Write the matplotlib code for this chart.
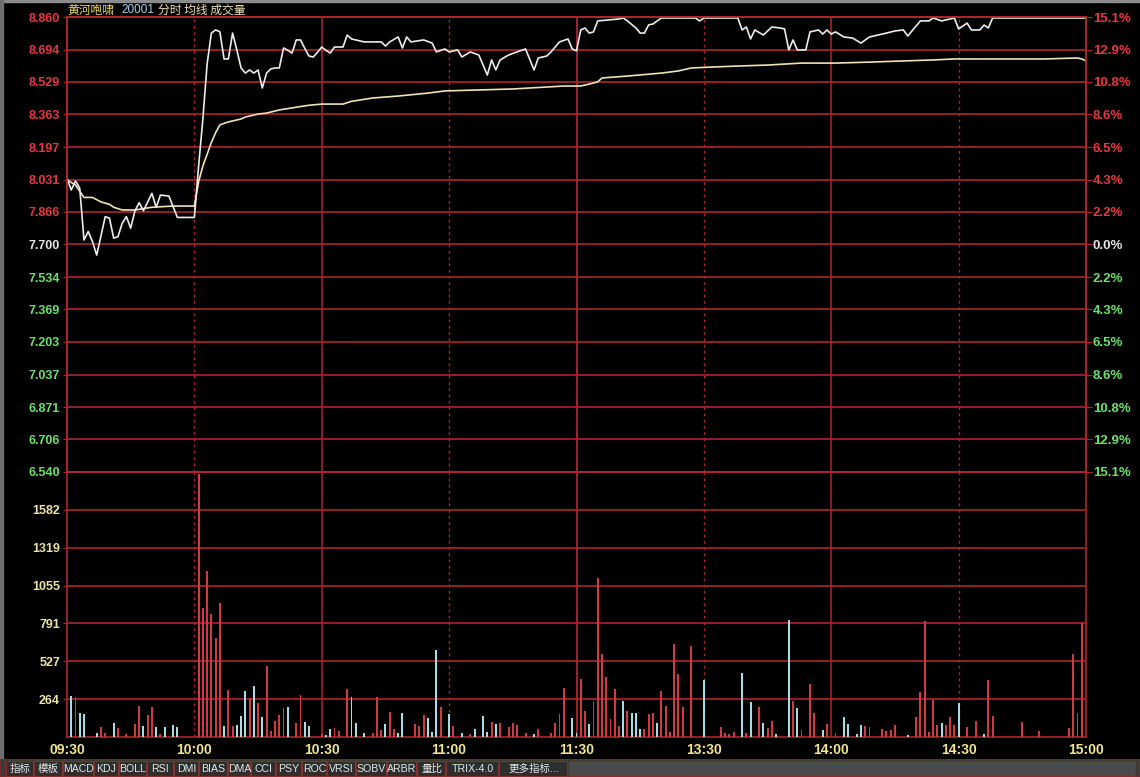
import matplotlib
matplotlib.use("Agg")
import matplotlib.pyplot as plt
from matplotlib.patches import Rectangle

plt.rcParams["font.family"] = ["Liberation Sans", "Noto Sans CJK SC", "DejaVu Sans"]

# minutes after 09:30, lunch break removed (0..240)
price_minutes = [0, 1, 2, 3, 4, 5, 6, 7, 9, 10, 11, 12, 13, 14, 15, 16, 17, 18, 20, 21,
                 22, 24, 25, 26, 30, 31, 32, 33, 34, 35, 36, 37, 38, 39, 40, 41, 42, 43, 44, 45,
                 46, 47, 48, 49, 50, 51, 52, 53, 54, 55, 56, 57, 58, 59, 60, 61, 62, 63, 64, 65,
                 66, 67, 70, 74, 75, 76, 78, 79, 80, 81, 84, 86, 87, 89, 90, 92, 93, 95, 97, 98,
                 99, 100, 101, 102, 104, 106, 108, 110, 111, 113, 114, 116, 118, 119, 120, 121, 122, 123, 124, 125,
                 130, 131, 132, 134, 135, 136, 137, 138, 139, 140, 148, 149, 150, 158, 159, 160, 161, 162, 164, 166,
                 168, 169, 170, 171, 172, 174, 175, 177, 178, 179, 180, 181, 183, 185, 187, 189, 191, 193, 195, 197,
                 198, 201, 203, 204, 206, 209, 210, 212, 213, 215, 216, 217, 218, 240]
price_values = [8.038, 7.978, 8.024, 7.987, 7.723, 7.766, 7.715, 7.646, 7.842, 7.834, 7.732, 7.740, 7.808, 7.842, 7.783, 7.872, 7.913, 7.872, 7.961, 7.889,
                7.952, 7.947, 7.893, 7.838, 7.838, 8.100, 8.340, 8.620, 8.778, 8.794, 8.785, 8.646, 8.646, 8.778, 8.692, 8.600, 8.574, 8.590, 8.574, 8.590,
                8.498, 8.574, 8.595, 8.600, 8.600, 8.702, 8.690, 8.676, 8.743, 8.743, 8.700, 8.661, 8.656, 8.680, 8.707, 8.690, 8.676, 8.707, 8.707, 8.707,
                8.768, 8.748, 8.733, 8.733, 8.712, 8.733, 8.758, 8.702, 8.758, 8.733, 8.743, 8.727, 8.682, 8.697, 8.682, 8.692, 8.656, 8.682, 8.666, 8.615,
                8.564, 8.641, 8.590, 8.641, 8.666, 8.682, 8.697, 8.590, 8.651, 8.661, 8.682, 8.733, 8.748, 8.697, 8.687, 8.794, 8.804, 8.778, 8.784, 8.840,
                8.850, 8.855, 8.840, 8.804, 8.778, 8.778, 8.820, 8.824, 8.840, 8.855, 8.855, 8.840, 8.855, 8.855, 8.794, 8.809, 8.748, 8.794, 8.768, 8.809,
                8.804, 8.799, 8.692, 8.743, 8.692, 8.692, 8.784, 8.794, 8.773, 8.794, 8.773, 8.784, 8.758, 8.753, 8.727, 8.758, 8.768, 8.778, 8.789, 8.794,
                8.763, 8.840, 8.840, 8.855, 8.840, 8.855, 8.799, 8.829, 8.794, 8.794, 8.819, 8.804, 8.855, 8.855]

avg_minutes = [0, 2, 4, 6, 8, 10, 11, 13, 16, 20, 25, 30, 31, 32, 33, 34, 35, 36, 38, 41,
               42, 45, 47, 50, 54, 57, 60, 65, 67, 72, 78, 85, 89, 97, 105, 113, 117, 121, 123, 125,
               126, 132, 140, 144, 147, 152, 158, 165, 173, 181, 189, 197, 204, 209, 222, 230, 238, 239, 240]
avg_values = [8.030, 8.003, 7.940, 7.940, 7.917, 7.905, 7.890, 7.876, 7.876, 7.890, 7.896, 7.896, 8.020, 8.100, 8.160, 8.220, 8.270, 8.310, 8.325, 8.340,
              8.350, 8.365, 8.370, 8.386, 8.400, 8.410, 8.416, 8.416, 8.430, 8.447, 8.457, 8.472, 8.483, 8.488, 8.493, 8.503, 8.508, 8.508, 8.518, 8.529,
              8.549, 8.559, 8.574, 8.585, 8.600, 8.605, 8.610, 8.615, 8.625, 8.625, 8.630, 8.636, 8.641, 8.646, 8.646, 8.646, 8.651, 8.646, 8.636]

vol_minutes = [1, 2, 3, 4, 7, 8, 9, 11, 12, 14, 16, 17, 18, 19, 20, 21, 22, 23, 25, 26,
               31, 32, 33, 34, 35, 36, 37, 38, 39, 40, 41, 42, 43, 44, 45, 46, 47, 48, 49, 50,
               51, 52, 54, 55, 56, 57, 60, 61, 62, 63, 64, 66, 67, 68, 70, 72, 73, 74, 75, 76,
               77, 78, 79, 82, 83, 84, 85, 86, 87, 88, 90, 91, 93, 95, 96, 98, 99, 100, 101, 102,
               104, 105, 106, 108, 110, 111, 114, 115, 116, 117, 119, 120, 121, 122, 123, 124, 125, 126, 127, 128,
               129, 130, 131, 132, 133, 134, 135, 136, 137, 138, 139, 140, 141, 142, 143, 144, 145, 147, 150, 154,
               155, 156, 157, 159, 160, 161, 163, 164, 165, 166, 167, 170, 171, 172, 173, 175, 176, 178, 179, 181,
               183, 184, 186, 187, 188, 189, 192, 193, 194, 195, 198, 200, 201, 202, 203, 204, 205, 206, 207, 208,
               209, 210, 212, 214, 216, 217, 218, 225, 229, 236, 237, 238, 239]
vol_values = [285, 278, 167, 160, 28, 69, 28, 97, 62, 21, 90, 215, 76, 153, 208, 69, 21, 69, 83, 69,
              1832, 902, 1159, 854, 687, 930, 76, 326, 76, 83, 146, 319, 271, 354, 236, 139, 493, 42, 111, 153,
              201, 208, 97, 291, 104, 76, 21, 15, 55, 62, 42, 333, 278, 97, 28, 28, 278, 48, 90, 174,
              55, 28, 167, 90, 76, 153, 132, 35, 604, 208, 160, 76, 28, 20, 55, 146, 35, 104, 90, 97,
              69, 97, 83, 28, 20, 55, 28, 97, 160, 340, 132, 28, 402, 180, 90, 243, 1110, 576, 416, 125,
              333, 76, 250, 180, 167, 167, 55, 55, 160, 167, 97, 319, 215, 35, 645, 437, 208, 631, 395, 69,
              28, 20, 35, 444, 28, 243, 208, 97, 62, 111, 20, 812, 250, 201, 48, 368, 167, 48, 90, 28,
              139, 90, 20, 83, 76, 69, 55, 42, 48, 83, 15, 139, 312, 805, 35, 257, 83, 97, 83, 139,
              83, 236, 69, 111, 20, 395, 146, 104, 42, 62, 576, 167, 791]
vol_down = [1, 0, 1, 1, 1, 0, 0, 1, 0, 0, 0, 0, 1, 0, 0, 1, 0, 1, 1, 1,
            0, 0, 0, 0, 0, 0, 1, 0, 0, 1, 1, 1, 0, 1, 0, 1, 0, 0, 0, 0,
            0, 1, 0, 0, 1, 1, 0, 1, 1, 0, 0, 0, 1, 1, 1, 0, 0, 0, 1, 0,
            0, 1, 1, 0, 0, 0, 1, 1, 1, 0, 1, 0, 1, 0, 1, 1, 1, 0, 1, 0,
            0, 0, 0, 0, 1, 0, 0, 0, 0, 0, 1, 1, 0, 0, 1, 0, 0, 0, 0, 0,
            0, 0, 1, 0, 1, 1, 1, 0, 0, 0, 1, 0, 0, 0, 0, 0, 0, 0, 1, 0,
            0, 0, 0, 1, 0, 1, 0, 1, 0, 0, 1, 1, 0, 1, 0, 0, 0, 1, 0, 0,
            1, 1, 1, 1, 0, 0, 0, 0, 0, 0, 1, 0, 0, 0, 0, 0, 0, 1, 0, 0,
            0, 1, 0, 0, 1, 0, 0, 0, 0, 0, 0, 0, 0]

price_ticks = [8.860, 8.694, 8.529, 8.363, 8.197, 8.031, 7.866, 7.700,
               7.534, 7.369, 7.203, 7.037, 6.871, 6.706, 6.540]
pct_labels = ["15.1%", "12.9%", "10.8%", "8.6%", "6.5%", "4.3%", "2.2%", "0.0%",
              "2.2%", "4.3%", "6.5%", "8.6%", "10.8%", "12.9%", "15.1%"]
prev_close = 7.700
vol_ticks = [264, 527, 791, 1055, 1319, 1582]
vol_top = 1846
time_ticks = [0, 30, 60, 90, 120, 150, 180, 210, 240]
time_labels = ["09:30", "10:00", "10:30", "11:00", "11:30", "13:30", "14:00", "14:30", "15:00"]
buttons = ["指标", "模板", "MACD", "KDJ", "BOLL", "RSI", "DMI", "BIAS", "DMA", "CCI",
           "PSY", "ROC", "VRSI", "SOBV", "ARBR", "量比", "TRIX-4.0", "更多指标..."]
button_edges = [6, 34, 63, 94, 119, 147, 174, 199, 228, 251, 276, 302, 327, 356, 387, 417, 446, 499, 568]

W, H = 1140, 777
GRID = "#ad252d"
RED_TXT = "#e8383e"
GREEN_TXT = "#6ee06e"
WHITE_TXT = "#e6e6e6"
VOL_TXT = "#ece4a8"
BAR_UP = "#cf3a44"
BAR_DN = "#a6dce6"


def box(x0, y0, x1, y1):
    return [x0 / W, 1 - y1 / H, (x1 - x0) / W, (y1 - y0) / H]


fig = plt.figure(figsize=(W / 100, H / 100), dpi=100, facecolor="black")

ax = fig.add_axes(box(67, 17, 1086, 472), facecolor="black")
axv = fig.add_axes(box(67, 472, 1086, 737), facecolor="black", sharex=ax)

ax.set_xlim(0, 240)
ax.set_ylim(price_ticks[-1], price_ticks[0])
axv.set_ylim(0, vol_top)

# grid
for p in price_ticks:
    ax.axhline(p, color=GRID, lw=1.2, clip_on=False, zorder=1)
for v in vol_ticks + [vol_top]:
    axv.axhline(v, color=GRID, lw=1.2, zorder=1)
for a in (ax, axv):
    for t in time_ticks[1:-1]:
        if t % 60 == 0:
            a.axvline(t, color=GRID, lw=1.3 if t == 120 else 1.1, zorder=1)
        else:
            a.axvline(t, color=GRID, lw=1.0, ls=(0, (2, 2.5)), zorder=1)
    for s in a.spines.values():
        s.set_color(GRID)
        s.set_linewidth(1.2)

# lines
ax.plot(avg_minutes, avg_values, color="#efe3b6", lw=1.2, zorder=3)
ax.plot(price_minutes, price_values, color="#ececec", lw=1.2, zorder=4)

# volume bars
bar_colors = [BAR_DN if d else BAR_UP for d in vol_down]
axv.bar(vol_minutes, vol_values, width=0.45, color=bar_colors, linewidth=0, zorder=3)

# left price labels
ax.set_yticks(price_ticks)
ax.set_yticklabels([f"{p:.3f}" for p in price_ticks])
ax.tick_params(axis="y", length=3, color=GRID, pad=2, labelsize=9)
for lbl, p in zip(ax.get_yticklabels(), price_ticks):
    lbl.set_fontweight("bold")
    lbl.set_color(RED_TXT if p > prev_close else (WHITE_TXT if p == prev_close else GREEN_TXT))
ax.tick_params(axis="x", length=0, labelbottom=False)

# right pct labels
axr = ax.twinx()
axr.set_ylim(ax.get_ylim())
axr.set_yticks(price_ticks)
axr.set_yticklabels(pct_labels)
axr.tick_params(axis="y", length=4, color=GRID, pad=1, labelsize=9.5)
for lbl, p in zip(axr.get_yticklabels(), price_ticks):
    lbl.set_fontweight("bold")
    lbl.set_color(RED_TXT if p > prev_close else (WHITE_TXT if p == prev_close else GREEN_TXT))
for s in axr.spines.values():
    s.set_color(GRID)
    s.set_linewidth(1.2)

# volume labels
axv.set_yticks(vol_ticks)
axv.set_yticklabels([str(v) for v in vol_ticks])
axv.tick_params(axis="y", length=3, color=GRID, pad=2, labelsize=9, labelcolor=VOL_TXT)
for lbl in axv.get_yticklabels():
    lbl.set_fontweight("bold")
axv.set_xticks(time_ticks)
axv.set_xticklabels(time_labels)
axv.tick_params(axis="x", length=0, pad=4, labelsize=10, labelcolor="#f2e690")
for lbl in axv.get_xticklabels():
    lbl.set_fontweight("bold")

# header
fig.text(67 / W, 1 - 10 / H, "黄河咆啸", color="#eedc5a", fontsize=8.5, va="center",
         family=["Noto Sans CJK SC", "DejaVu Sans"])
fig.text(121 / W, 1 - 10 / H, "20001", color="#9fd4e6", fontsize=8.5, va="center")
fig.text(158 / W, 1 - 10 / H, "分时 均线 成交量", color="#f2e4b0", fontsize=8.5, va="center",
         family=["Noto Sans CJK SC", "DejaVu Sans"])

# outer frame
frame = fig.add_axes([0, 0, 1, 1], facecolor="none", zorder=-1)
frame.set_xlim(0, W)
frame.set_ylim(H, 0)
frame.axis("off")
frame.add_patch(Rectangle((0, 0), W, 2, color="#8c8c8c"))
frame.add_patch(Rectangle((0, 0), 3, 760, color="#6e6e6e"))

# toolbar
tb = fig.add_axes(box(0, 759, W, H), facecolor="#3c3c3c")
tb.set_xlim(0, W)
tb.set_ylim(18, 0)
tb.axis("off")
tb.add_patch(Rectangle((0, 0), W, 18, facecolor="#3c3c3c", edgecolor="#7a2a2a", lw=1.2))
for name, x0, x1 in zip(buttons, button_edges[:-1], button_edges[1:]):
    tb.add_patch(Rectangle((x0, 1.5), x1 - x0 - 1, 15, facecolor="#2e2e2e",
                           edgecolor="#8a2c2c", lw=0.8))
    tb.text((x0 + x1) / 2, 9.5, name, color="#e4e4e4", fontsize=7.6,
            ha="center", va="center", family=["Liberation Sans Narrow", "Liberation Sans", "Noto Sans CJK SC"])
tb.add_patch(Rectangle((button_edges[-1] + 1, 1.5), W - button_edges[-1] - 6, 15,
                       facecolor="#4a4a4a", edgecolor="#8a2c2c", lw=0.8))

fig.savefig("out.png", dpi=100, facecolor="black")
